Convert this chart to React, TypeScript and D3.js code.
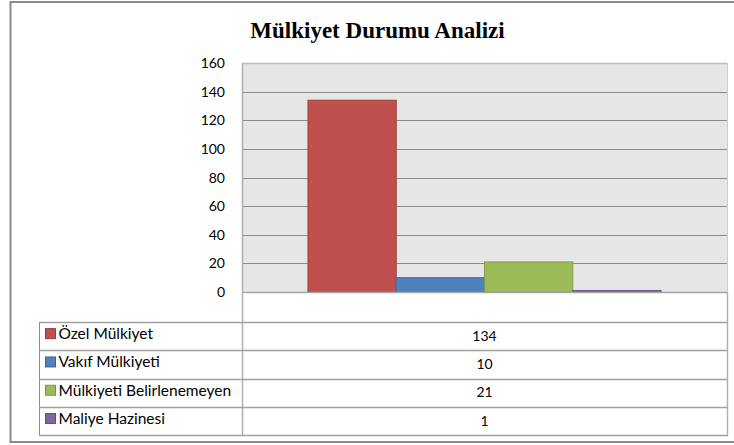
import React from "react";
import * as d3 from "d3";

const title = "Mülkiyet Durumu Analizi";
const seriesNames = ["Özel Mülkiyet", "Vakıf Mülkiyeti", "Mülkiyeti Belirlenemeyen", "Maliye Hazinesi"];
const seriesValues = [134, 10, 21, 1];
const seriesColors = ["#C0504D", "#4F81BD", "#9BBB59", "#8064A2"];
const yTicks = [0, 20, 40, 60, 80, 100, 120, 140, 160];

const W = 734;
const H = 445;
const plotL = 242;
const plotR = 727;
const plotT = 63;
const plotB = 292;
const headerH = 30;
const rowH = 28.3;
const legendL = 39;
const sans = "Lato, 'Open Sans', sans-serif";

export default function App() {
  const y = d3.scaleLinear().domain([0, 160]).range([plotB, plotT]);
  const plotW = plotR - plotL;
  const pad = plotW * 0.136;
  const x = d3.scaleBand<string>().domain(seriesNames).range([plotL + pad, plotR - pad]).padding(0);
  const tableTop = plotB + headerH;
  const tableBottom = tableTop + rowH * seriesNames.length;
  const rowY = (i: number) => tableTop + rowH * i;
  const valueX = (plotL + plotR) / 2;

  return (
    <div style={{ position: "absolute", left: 0, top: 0 }}>
      <svg width={W} height={H} style={{ display: "block" }}>
        <rect x={0} y={0} width={W} height={H} fill="#fff" />
        {/* outer frame */}
        <rect x={10.5} y={2} width={W + 5} height={440} fill="none" stroke="#8a8a8a" strokeWidth={2} />
        {/* title */}
        <text x={377.5} y={38} textAnchor="middle" fontFamily="'Liberation Serif', 'Times New Roman', serif" fontWeight="bold" fontSize={23} fill="#000">
          {title}
        </text>
        {/* plot area */}
        <rect x={plotL} y={plotT} width={plotW} height={plotB - plotT} fill="#E6E6E6" />
        <line x1={plotL} x2={plotR} y1={plotT + 0.5} y2={plotT + 0.5} stroke="#bdbdbd" strokeWidth={1.5} />
        <line x1={plotR + 0.5} x2={plotR + 0.5} y1={plotT} y2={plotB} stroke="#d0d0d0" strokeWidth={1} />
        {yTicks.filter((t) => t > 0 && t < 160).map((t) => (
          <line key={t} x1={plotL} x2={plotR} y1={Math.round(y(t)) + 0.5} y2={Math.round(y(t)) + 0.5} stroke="#8c8c8c" strokeWidth={1} />
        ))}
        {yTicks.map((t) => (
          <text key={t} x={225} y={y(t) + 5} textAnchor="end" fontFamily={sans} fontSize={14} fill="#000">
            {t}
          </text>
        ))}
        {/* bars */}
        {seriesNames.map((s, i) => (
          <rect
            key={s}
            x={x(s)!}
            y={y(seriesValues[i])}
            width={x.bandwidth()}
            height={y(0) - y(seriesValues[i])}
            fill={seriesColors[i]}
            stroke={d3.color(seriesColors[i])!.darker(0.5).toString()}
            strokeWidth={1}
          />
        ))}
        {/* data table */}
        <rect x={plotL} y={plotB} width={plotW} height={tableBottom - plotB} fill="#fff" />
        <line x1={plotL} x2={plotR} y1={plotB + 0.5} y2={plotB + 0.5} stroke="#a6a6a6" strokeWidth={1.5} />
        <line x1={plotL + 0.5} x2={plotL + 0.5} y1={plotT} y2={tableBottom} stroke="#b0b0b0" strokeWidth={1.5} />
        <line x1={plotR + 0.5} x2={plotR + 0.5} y1={plotB} y2={tableBottom} stroke="#b0b0b0" strokeWidth={1.5} />
        <line x1={legendL + 0.5} x2={legendL + 0.5} y1={tableTop} y2={tableBottom} stroke="#8c8c8c" strokeWidth={1} />
        {seriesNames.map((s, i) => (
          <line key={"h" + s} x1={legendL} x2={plotR} y1={Math.round(rowY(i)) + 0.5} y2={Math.round(rowY(i)) + 0.5} stroke="#a0a0a0" strokeWidth={1.5} />
        ))}
        <line x1={legendL} x2={plotR + 1} y1={Math.round(tableBottom) + 0.5} y2={Math.round(tableBottom) + 0.5} stroke="#a0a0a0" strokeWidth={1.5} />
        {seriesNames.map((s, i) => {
          const cy = rowY(i) + rowH / 2;
          return (
            <g key={"r" + s}>
              <rect x={45.5} y={cy - 7.5} width={10} height={10} fill={seriesColors[i]} stroke={d3.color(seriesColors[i])!.darker(0.7).toString()} strokeWidth={1} />
              <text x={58.5} y={cy + 3} fontFamily={sans} fontSize={15.5} fill="#000">
                {s}
              </text>
              <text x={valueX} y={cy + 4.5} textAnchor="middle" fontFamily={sans} fontSize={14} fill="#000">
                {seriesValues[i]}
              </text>
            </g>
          );
        })}
      </svg>
    </div>
  );
}
